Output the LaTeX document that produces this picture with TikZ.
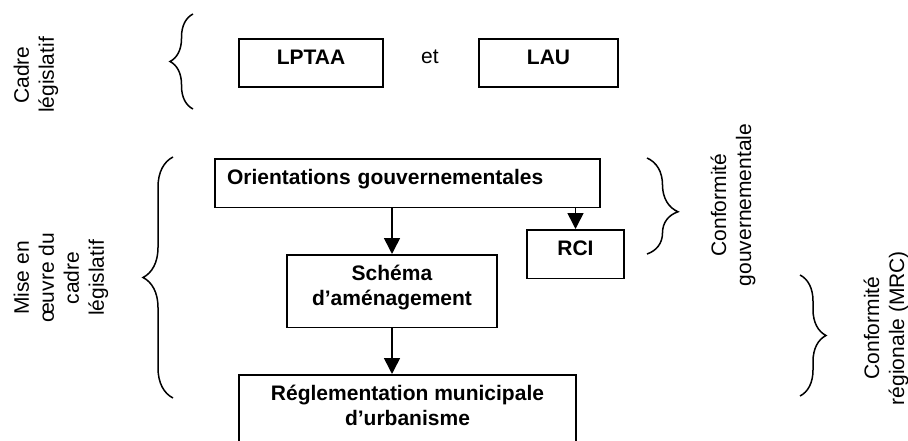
\documentclass[tikz,border=0pt]{standalone}
\usepackage{fontspec}
\setmainfont{Liberation Sans}
\usetikzlibrary{arrows.meta,decorations.pathreplacing}
\newcommand\gros{\fontsize{21pt}{25pt}\selectfont}
\tikzset{
  loi/.style={draw, line width=1.6pt, font=\gros\bfseries, anchor=north,
    inner xsep=0pt, inner ysep=0pt, align=center,
    text height=25.5pt, text depth=23pt},
  loi2/.style={loi, text height=50.5pt},
  fleche/.style={line width=1.6pt, -{Triangle[length=16pt,width=16pt]}},
  accolade/.style={line width=1.5pt, decorate, decoration={brace, amplitude=#1}},
  accolade/.default=25pt,
  note/.style={rotate=90, align=center, font=\gros}
}

\begin{document}
\begin{tikzpicture}[x=1pt, y=-1pt, font=\gros]
  \useasboundingbox (0,0) rectangle (908,441);
  \clip (0,0) rectangle (908,441);
  % legislative frame
  \node[loi, minimum width=144pt] (lptaa) at (311,38) {LPTAA};
  \node[loi, minimum width=139pt] (lau) at (548.5,38) {LAU};
  \node[anchor=base] (et) at (430,64) {et};
  % implementation
  \node[loi, inner xsep=12pt, text width=361pt, align=left] (orient) at (407.5,158)
    {Orientations gouvernementales};
  \node[loi, minimum width=97pt] (rci) at (575.5,229) {RCI};
  \node[loi2, minimum width=210pt, text depth=22pt] (schema) at (392,254)
    {Schéma\\d’aménagement};
  \node[loi2, minimum width=337pt, text depth=70pt] (regl) at (407.5,374)
    {Réglementation municipale\\d’urbanisme};
  \draw[fleche] (schema.north |- orient.south) -- (schema.north);
  \draw[fleche] (rci.north |- orient.south) -- (rci.north);
  \draw[fleche] (schema.south) -- (schema.south |- regl.north);
  % braces and side notes
  \draw[accolade=23pt] (193,109) -- (193,14);
  \draw[accolade=30pt] (173,398) -- (173,157);
  \draw[accolade=31pt, decoration={aspect=0.56}] (647,158) -- (647,254);
  \draw[accolade=26pt] (800,275) -- (800,396);
  \node[note] (cadre) at (36,75) {Cadre\\législatif};
  \node[note] (mise) at (61,278) {Mise en\\œuvre du\\cadre\\législatif};
  \node[note] (confgouv) at (733,205) {Conformité\\gouvernementale};
  \node[note] (confreg) at (886,328) {Conformité\\régionale (MRC)};
\end{tikzpicture}
\end{document}
